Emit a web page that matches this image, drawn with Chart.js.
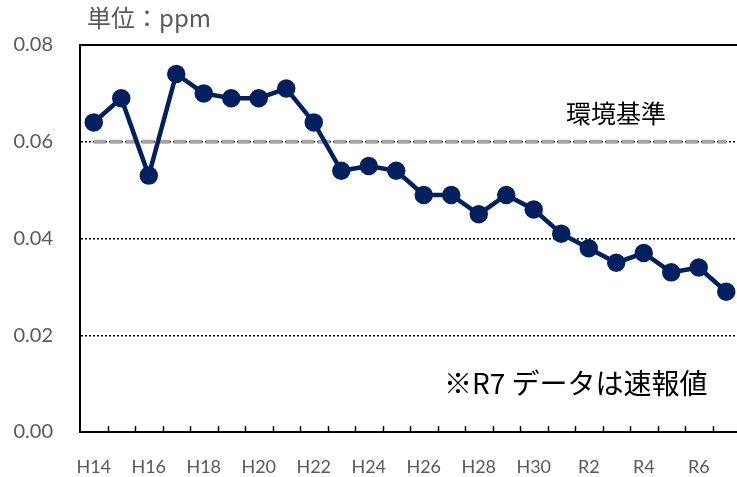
<!DOCTYPE html>
<html>
<head>
<meta charset="utf-8">
<script src="https://cdn.jsdelivr.net/npm/chart.js@4/dist/chart.umd.min.js"></script>
<style>
  html, body { margin: 0; padding: 0; background: #fff; overflow: hidden; }
  #wrap { position: relative; width: 741px; height: 477px; }
</style>
</head>
<body>
<div id="wrap"><canvas id="no2Chart"></canvas></div>
<script>
// Data
const years = ['H14', 'H15', 'H16', 'H17', 'H18', 'H19', 'H20', 'H21', 'H22', 'H23', 'H24', 'H25',
               'H26', 'H27', 'H28', 'H29', 'H30', 'R1', 'R2', 'R3', 'R4', 'R5', 'R6', 'R7'];
const shownLabels = ['H14', 'H16', 'H18', 'H20', 'H22', 'H24', 'H26', 'H28', 'H30', 'R2', 'R4', 'R6'];
const measured = [0.064, 0.069, 0.053, 0.074, 0.070, 0.069, 0.069, 0.071, 0.064, 0.054, 0.055, 0.054,
                  0.049, 0.049, 0.045, 0.049, 0.046, 0.041, 0.038, 0.035, 0.037, 0.033, 0.034, 0.029];
const standard = [0.06, 0.06, 0.06, 0.06, 0.06, 0.06, 0.06, 0.06, 0.06, 0.06, 0.06, 0.06,
                  0.06, 0.06, 0.06, 0.06, 0.06, 0.06, 0.06, 0.06, 0.06, 0.06, 0.06, 0.06];
const yTicks = [0, 0.02, 0.04, 0.06, 0.08];

const labelGray = '#595959';
const jpFont = "'Noto Sans CJK JP', sans-serif";

// Extra drawing: top border, inner tick marks, text notes
const extras = {
    id: 'extras',
    beforeDatasetsDraw(chart) {
        const { ctx, chartArea: a, scales: { x, y } } = chart;
        ctx.save();
        ctx.strokeStyle = '#000';
        ctx.lineWidth = 2;
        ctx.beginPath();
        ctx.moveTo(a.left, y.getPixelForValue(0.08));
        ctx.lineTo(a.right, y.getPixelForValue(0.08));
        ctx.stroke();
        const half = (x.getPixelForValue(1) - x.getPixelForValue(0)) / 2;
        ctx.lineWidth = 1.5;
        for (let i = 1; i <= years.length; i++) {
            const px = Math.round(x.getPixelForValue(i) - half) + 0.5;
            ctx.beginPath();
            ctx.moveTo(px, a.bottom);
            ctx.lineTo(px, a.bottom - 6);
            ctx.stroke();
        }
        ctx.restore();
    },
    afterDraw(chart) {
        const ctx = chart.ctx;
        ctx.save();
        ctx.textBaseline = 'middle';
        ctx.textAlign = 'left';
        ctx.fillStyle = labelGray;
        ctx.font = '24px ' + jpFont;
        ctx.fillText('単位：ppm', 87, 18);
        ctx.fillStyle = '#000';
        ctx.font = '25px ' + jpFont;
        ctx.fillText('環境基準', 566, 113);
        ctx.font = '28px ' + jpFont;
        ctx.fillText('※R7 データは速報値', 444, 383);
        ctx.restore();
    }
};

new Chart(document.getElementById('no2Chart').getContext('2d'), {
    type: 'line',
    data: {
        labels: years,
        datasets: [{
            label: '測定値',
            data: measured,
            borderColor: '#002060',
            backgroundColor: '#002060',
            borderWidth: 4.5,
            pointRadius: 7,
            pointHoverRadius: 7,
            tension: 0,
            order: 1
        }, {
            label: '環境基準',
            data: standard,
            borderColor: '#A6A6A6',
            borderWidth: 4,
            borderDash: [12, 4],
            pointRadius: 0,
            order: 2
        }]
    },
    options: {
        responsive: true,
        maintainAspectRatio: false,
        animation: false,
        layout: { autoPadding: false, padding: { top: 45, right: 1, left: 0, bottom: 0 } },
        plugins: { legend: { display: false }, tooltip: { enabled: false } },
        scales: {
            x: {
                offset: true,
                grid: { display: true, drawOnChartArea: false, drawTicks: true, tickLength: 24, tickColor: 'rgba(0,0,0,0)' },
                border: { display: true, color: '#000', width: 2 },
                afterFit: s => { s.height = 45; },
                ticks: {
                    autoSkip: false,
                    maxRotation: 0,
                    padding: 0,
                    color: labelGray,
                    font: { family: 'Lato', size: 18 },
                    callback: function (v) {
                        const l = this.getLabelForValue(v);
                        return shownLabels.includes(l) ? l : '';
                    }
                }
            },
            y: {
                min: 0,
                max: 0.08,
                afterBuildTicks: s => { s.ticks = yTicks.map(v => ({ value: v })); },
                afterFit: s => { s.width = 80; },
                grid: {
                    color: c => (c.tick && (c.tick.value === 0 || c.tick.value === 0.08)) ? 'rgba(0,0,0,0)' : '#000',
                    lineWidth: 1.5,
                    drawTicks: false
                },
                border: { display: true, color: '#000', width: 2, dash: [2, 2] },
                ticks: {
                    padding: 27,
                    color: labelGray,
                    font: { family: 'Lato', size: 20 },
                    callback: v => v.toFixed(2)
                }
            }
        }
    },
    plugins: [extras]
});
</script>
</body>
</html>
